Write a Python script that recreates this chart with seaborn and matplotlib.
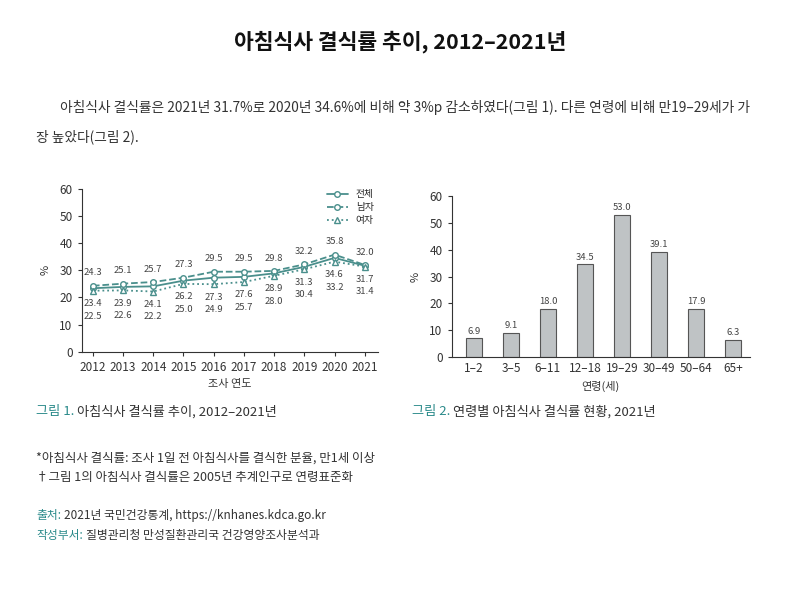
import matplotlib
matplotlib.use("Agg")
import matplotlib.pyplot as plt
import seaborn as sns
import pandas as pd

# ── data ──
years = [2012, 2013, 2014, 2015, 2016, 2017, 2018, 2019, 2020, 2021]
total = [23.4, 23.9, 24.1, 26.2, 27.3, 27.6, 28.9, 31.3, 34.6, 31.7]
male = [24.3, 25.1, 25.7, 27.3, 29.5, 29.5, 29.8, 32.2, 35.8, 32.0]
female = [22.5, 22.6, 22.2, 25.0, 24.9, 25.7, 28.0, 30.4, 33.2, 31.4]
series_names = ["전체", "남자", "여자"]

age_groups = ["1–2", "3–5", "6–11", "12–18", "19–29", "30–49", "50–64", "65+"]
age_rates = [6.9, 9.1, 18.0, 34.5, 53.0, 39.1, 17.9, 6.3]

sns.set_style("ticks")
plt.rcParams["font.family"] = ["Noto Sans CJK KR", "DejaVu Sans"]
plt.rcParams["axes.edgecolor"] = "#333333"
plt.rcParams["xtick.color"] = "#333333"
plt.rcParams["ytick.color"] = "#333333"

TEAL = "#4a8f8c"
CAP = "#2a8a8a"
TXT = "#333333"

fig = plt.figure(figsize=(8, 6), dpi=100)

# ── title and paragraph ──
fig.text(0.5, 1 - 42 / 600, "아침식사 결식률 추이, 2012–2021년", ha="center", va="center",
         fontsize=15.5, fontweight="bold", color="#111111")
fig.text(60 / 800, 1 - 107 / 600,
         "아침식사 결식률은 2021년 31.7%로 2020년 34.6%에 비해 약 3%p 감소하였다(그림 1). "
         "다른 연령에 비해 만19–29세가 가",
         ha="left", va="center", fontsize=9.9, color=TXT)
fig.text(36 / 800, 1 - 137 / 600, "장 높았다(그림 2).", ha="left", va="center",
         fontsize=9.9, color=TXT)

# ── figure 1: line chart ──
df = pd.DataFrame({"year": years * 3,
                   "rate": total + male + female,
                   "group": [series_names[0]] * 10 + [series_names[1]] * 10 + [series_names[2]] * 10})

ax1 = fig.add_axes([81.7 / 800, 1 - 351.7 / 600, 296 / 800, 162.7 / 600])
styles = {"전체": ("-", "o"), "남자": ("--", "o"), "여자": (":", "^")}
for name in series_names:
    sub = df[df["group"] == name]
    ls, mk = styles[name]
    sns.lineplot(data=sub, x="year", y="rate", ax=ax1, color=TEAL, linestyle=ls,
                 marker=mk, markersize=4, markerfacecolor="white", markeredgecolor=TEAL,
                 markeredgewidth=1, linewidth=1.3, label=name)

for i, yr in enumerate(years):
    low = min(total[i], male[i], female[i])
    ax1.annotate(f"{male[i]:.1f}", (yr, male[i]), xytext=(0, 6), textcoords="offset points",
                 ha="center", va="bottom", fontsize=6.8, color="#444444")
    ax1.annotate(f"{total[i]:.1f}", (yr, low), xytext=(0, -6), textcoords="offset points",
                 ha="center", va="top", fontsize=6.8, color="#444444")
    ax1.annotate(f"{female[i]:.1f}", (yr, low), xytext=(0, -15), textcoords="offset points",
                 ha="center", va="top", fontsize=6.8, color="#444444")

ax1.set_xlim(2011.63, 2021.43)
ax1.set_ylim(0, 60)
ax1.set_xticks(years)
ax1.set_yticks(range(0, 61, 10))
ax1.tick_params(labelsize=8.5, length=3, width=0.8)
ax1.set_xlabel("조사 연도", fontsize=8, color=TXT, labelpad=4)
ax1.set_ylabel("%", fontsize=8, color=TXT, labelpad=6)
sns.despine(ax=ax1)
ax1.legend(loc="upper right", bbox_to_anchor=(1.01, 1.04), frameon=False, fontsize=7,
           handlelength=2.2, labelspacing=0.3, borderpad=0.2)

# ── figure 2: bar chart ──
bar_df = pd.DataFrame({"age": age_groups, "rate": age_rates})
ax2 = fig.add_axes([451.7 / 800, 1 - 357 / 600, 298.3 / 800, 161 / 600])
sns.barplot(data=bar_df, x="age", y="rate", ax=ax2, color="#bfc3c5", edgecolor="#555555",
            linewidth=0.8, width=0.45, saturation=1)
for i, v in enumerate(age_rates):
    ax2.annotate(f"{v:.1f}", (i, v), xytext=(0, 2), textcoords="offset points",
                 ha="center", va="bottom", fontsize=6.8, color="#444444")
ax2.set_xlim(-0.6, 7.46)
ax2.set_ylim(0, 60)
ax2.set_yticks(range(0, 61, 10))
ax2.tick_params(labelsize=8.5, length=3, width=0.8)
ax2.tick_params(axis="x", length=0)
ax2.set_xlabel("연령(세)", fontsize=8, color=TXT, labelpad=4)
ax2.set_ylabel("%", fontsize=8, color=TXT, labelpad=6)
sns.despine(ax=ax2)

# ── captions and notes ──
def caption(x, y, head, rest, size=9.5):
    t = fig.text(x / 800, 1 - y / 600, head, ha="left", va="center", fontsize=size, color=CAP)
    fig.canvas.draw()
    bb = t.get_window_extent()
    fig.text(bb.x1 / 800 + 3 / 800, 1 - y / 600, rest, ha="left", va="center",
             fontsize=size, color=TXT)

caption(36, 412, "그림 1.", "아침식사 결식률 추이, 2012–2021년")
caption(412, 412, "그림 2.", "연령별 아침식사 결식률 현황, 2021년")

fig.text(36 / 800, 1 - 458 / 600, "*아침식사 결식률: 조사 1일 전 아침식사를 결식한 분율, 만1세 이상",
         ha="left", va="center", fontsize=9, color=TXT)
fig.text(36 / 800, 1 - 477 / 600, "†그림 1의 아침식사 결식률은 2005년 추계인구로 연령표준화",
         ha="left", va="center", fontsize=9, color=TXT)
caption(36, 515, "출처:", "2021년 국민건강통계, https://knhanes.kdca.go.kr", size=8.5)
caption(36, 536, "작성부서:", "질병관리청 만성질환관리국 건강영양조사분석과", size=8.5)

fig.savefig("out.png", dpi=100, facecolor="white")
